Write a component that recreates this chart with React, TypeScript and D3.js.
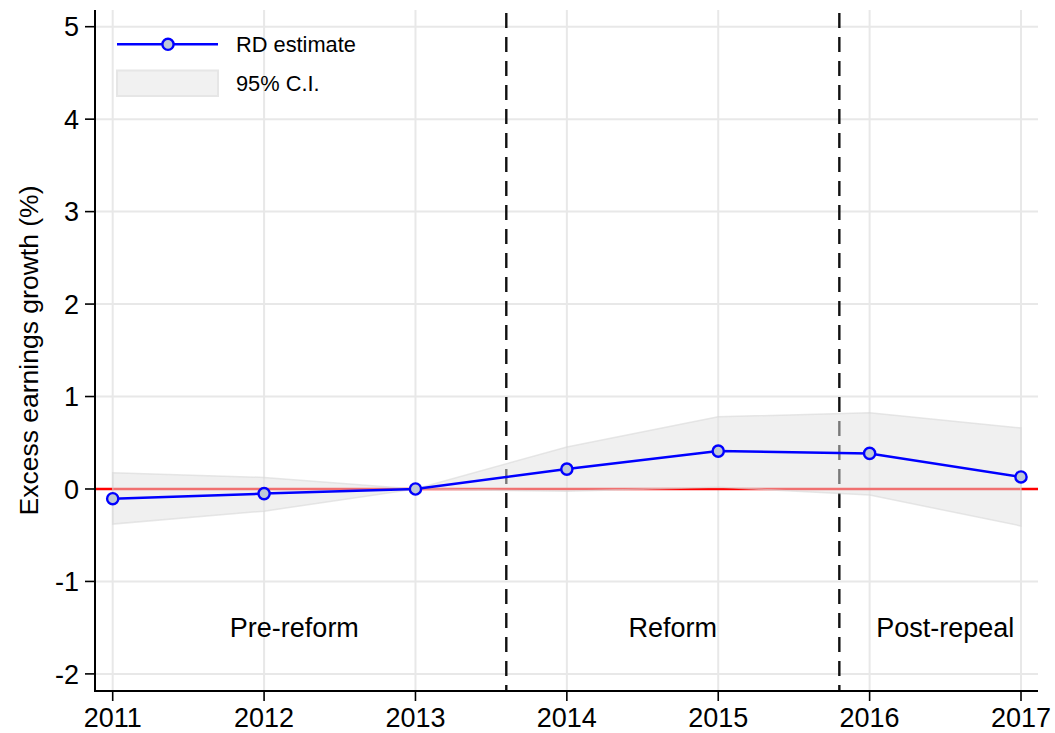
import React from "react";
import * as d3 from "d3";

const years = [2011, 2012, 2013, 2014, 2015, 2016, 2017];
const estimate = [-0.105, -0.05, 0.0, 0.215, 0.41, 0.385, 0.13];
const ciUpper = [0.175, 0.125, 0.0, 0.455, 0.78, 0.825, 0.66];
const ciLower = [-0.38, -0.24, 0.0, -0.025, 0.02, -0.065, -0.4];
const yTicks = [-2, -1, 0, 1, 2, 3, 4, 5];
const periodBreaks = [2013.6, 2015.8];
const periodLabels = [
  { text: "Pre-reform", x: 2012.2 },
  { text: "Reform", x: 2014.7 },
  { text: "Post-repeal", x: 2016.5 },
];
const periodLabelY = -1.5;

const FONT = "'Liberation Sans', Arial, Helvetica, sans-serif";

export default function App() {
  const W = 1055;
  const H = 733;
  const left = 95;
  const right = 1038;
  const top = 10;
  const bottom = 691;

  const x = d3.scaleLinear().domain([2011, 2017]).range([112.7, 1021]);
  const y = d3.scaleLinear().domain([-2, 5]).range([673.9, 26.7]);

  const idx = d3.range(years.length);
  const area = d3
    .area<number>()
    .x((i) => x(years[i]))
    .y0((i) => y(ciLower[i]))
    .y1((i) => y(ciUpper[i]));
  const line = d3
    .line<number>()
    .x((i) => x(years[i]))
    .y((i) => y(estimate[i]));

  return (
    <div style={{ position: "absolute", left: 0, top: 0 }}>
      <svg width={W} height={H} style={{ display: "block", background: "#fff" }} fontFamily={FONT}>
        {/* grid */}
        {yTicks.map((t) => (
          <line key={"gy" + t} x1={left} x2={right} y1={y(t)} y2={y(t)} stroke="#e8e8e8" strokeWidth={2} />
        ))}
        {years.map((t) => (
          <line key={"gx" + t} x1={x(t)} x2={x(t)} y1={top} y2={bottom} stroke="#e8e8e8" strokeWidth={2} />
        ))}
        {/* zero line */}
        <line x1={left} x2={right} y1={y(0)} y2={y(0)} stroke="#ff0000" strokeWidth={2.4} />
        {/* period breaks */}
        {periodBreaks.map((b) => (
          <line
            key={"pb" + b}
            x1={x(b)}
            x2={x(b)}
            y1={top + 3}
            y2={bottom}
            stroke="#111"
            strokeWidth={2.4}
            strokeDasharray="15 9"
          />
        ))}
        {/* CI */}
        <path
          d={area(idx) || ""}
          fill="#e2e2e2"
          fillOpacity={0.5}
          stroke="#d8d8d8"
          strokeOpacity={0.6}
          strokeWidth={1.5}
        />
        {/* estimate */}
        <path d={line(idx) || ""} fill="none" stroke="#0000ff" strokeWidth={2.5} />
        {idx.map((i) => (
          <circle key={"pt" + i} cx={x(years[i])} cy={y(estimate[i])} r={5.6} fill="#bec8d6" stroke="#0000ff" strokeWidth={2.4} />
        ))}
        {/* axes */}
        <line x1={left} x2={left} y1={top} y2={bottom + 1} stroke="#000" strokeWidth={2} />
        <line x1={left - 1} x2={right} y1={bottom} y2={bottom} stroke="#000" strokeWidth={2} />
        {yTicks.map((t) => (
          <g key={"yt" + t}>
            <line x1={left - 10} x2={left} y1={y(t)} y2={y(t)} stroke="#000" strokeWidth={1.6} />
            <text x={79} y={y(t) + 9.6} textAnchor="end" fontSize={27} fill="#000">
              {t}
            </text>
          </g>
        ))}
        {years.map((t) => (
          <g key={"xt" + t}>
            <line x1={x(t)} x2={x(t)} y1={bottom} y2={bottom + 10} stroke="#000" strokeWidth={1.6} />
            <text x={x(t)} y={727} textAnchor="middle" fontSize={27} fill="#000">
              {t}
            </text>
          </g>
        ))}
        <text
          transform={`translate(37.5, ${(top + bottom) / 2}) rotate(-90)`}
          textAnchor="middle"
          fontSize={26.5}
          fill="#000"
        >
          Excess earnings growth (%)
        </text>
        {/* period labels */}
        {periodLabels.map((p) => (
          <text key={p.text} x={x(p.x)} y={y(periodLabelY) + 9.8} textAnchor="middle" fontSize={27} fill="#000">
            {p.text}
          </text>
        ))}
        {/* legend */}
        <line x1={117} x2={218} y1={44.3} y2={44.3} stroke="#0000ff" strokeWidth={2.5} />
        <circle cx={168} cy={44.3} r={5.6} fill="#bec8d6" stroke="#0000ff" strokeWidth={2.4} />
        <text x={236} y={52} fontSize={21.8} fill="#000">
          RD estimate
        </text>
        <rect x={117} y={70.5} width={101} height={25.5} fill="#f1f1f1" stroke="#e6e6e6" strokeWidth={2} />
        <text x={236} y={91} fontSize={21.8} fill="#000">
          95% C.I.
        </text>
      </svg>
    </div>
  );
}
